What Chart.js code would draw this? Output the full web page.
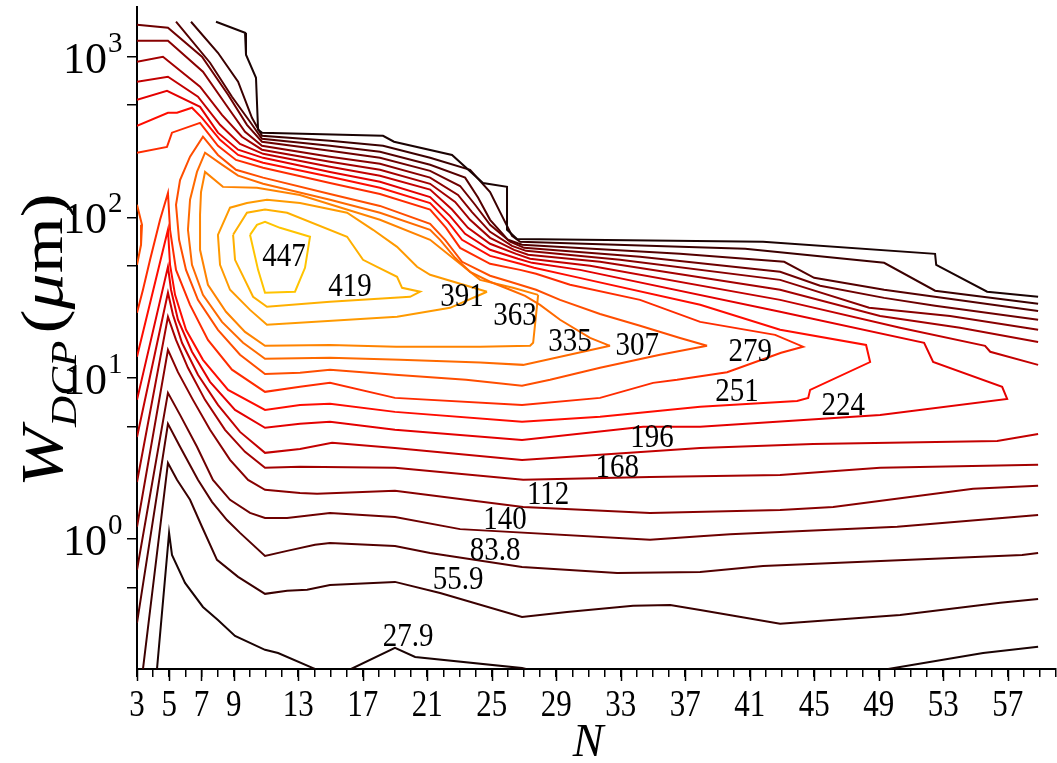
<!DOCTYPE html>
<html>
<head>
<meta charset="utf-8">
<script src="https://cdn.jsdelivr.net/npm/chart.js@4.4.1/dist/chart.umd.min.js"></script>
<style>
  html, body { margin: 0; padding: 0; background: #ffffff; }
  #wrap { width: 1057px; height: 763px; position: relative; }
</style>
</head>
<body>
<div id="wrap"><canvas id="c" width="1057" height="763"></canvas></div>
<script>
// Axis ranges and tick values
const nRange = [3, 60];
const wRange = [0.155, 2040];
const xLabelTicks = [3, 5, 7, 9, 13, 17, 21, 25, 29, 33, 37, 41, 45, 49, 53, 57];
const yDecadeExponents = [0, 1, 2, 3];
const yMinorTicks = [0.5, 5, 50, 500];

// Contour levels, outermost first ([N, W] points along each line)
const levels = [27.9, 55.9, 83.8, 140, 112, 168, 196, 224, 251, 279, 307, 335, 363, 391, 419, 447];

// 27.9
const lv279a = [[4.24,0.155],[4.99,1.09],[5.17,0.795],[5.98,0.532],[7.09,0.377],[8.02,0.313],[9.08,0.249],[10.94,0.204],[11.75,0.195],[13.92,0.157],[14.04,0.155]];
const lv279b = [[16.28,0.155],[19.0,0.21],[20.25,0.184],[26.88,0.157],[27.13,0.155]];
const lv279c = [[49.59,0.155],[55.48,0.195],[58.89,0.213]];
const lv279top = [[7.90,1652],[9.70,1410],[9.76,1029],[10.38,740],[10.51,351],[10.75,337],[18.26,322],[18.94,296],[22.54,245],[24.46,164],[25.95,155],[25.95,83.8],[26.57,73.5],[41.83,70.5],[52.50,59.4],[52.57,50.7],[55.73,34.5],[58.89,32.1]];
// 55.9
const lv559low = [[3.37,0.155],[4.92,2.97],[5.48,2.33],[6.29,1.75],[7.03,1.19],[7.96,0.74],[9.27,0.58],[10.94,0.455],[12.31,0.475],[13.55,0.482],[14.97,0.517],[19.0,0.54],[21.8,0.461],[26.88,0.327],[29.67,0.351],[33.77,0.383],[36.07,0.388],[37.93,0.361],[42.89,0.296],[50.33,0.336],[56.54,0.40],[58.89,0.423]];
const lv559top = [[6.35,1652],[8.02,1059],[9.27,699],[10.13,417],[10.75,322],[14.97,300],[18.26,279],[21.18,235],[23.66,198],[24.90,144],[25.52,108],[26.26,76.9],[26.76,70.6],[40.72,63.8],[49.34,52.2],[52.50,35.0],[58.89,29.0]];
// 83.8
const lv838low = [[3.0,0.30],[4.92,5.2],[5.67,3.74],[6.78,2.33],[7.65,1.70],[8.58,1.31],[9.39,1.09],[10.94,0.784],[12.31,0.842],[14.04,0.918],[14.97,0.944],[19.0,0.904],[21.18,0.818],[26.88,0.669],[32.78,0.614],[37.93,0.623],[41.83,0.679],[57.9,0.795],[58.89,0.818]];
const lv838top = [[5.42,1652],[7.53,918],[8.89,564],[10.01,394],[10.75,309],[14.97,279],[18.07,256],[21.18,213],[23.35,177],[24.15,133],[24.90,96.7],[26.01,72.6],[26.88,67.6],[36.68,59.4],[43.14,53.0],[45.0,42.1],[49.34,35.5],[58.89,26.2]];
// 140
const lv140low = [[3.0,0.641],[4.92,8.1],[5.67,5.91],[6.72,3.74],[7.71,2.33],[8.77,1.75],[10.01,1.45],[10.94,1.35],[12.31,1.35],[14.97,1.45],[19.0,1.37],[23.04,1.15],[34.82,0.986],[37.93,1.04],[39.79,1.07],[50.15,1.19],[58.89,1.41]];
const lv140top = [[3.0,1581],[4.92,1515],[7.03,1000],[8.65,580],[9.82,377],[10.75,296],[14.97,260],[18.07,235],[21.18,195],[23.04,157],[23.97,120],[24.90,90],[26.14,70.6],[27.01,64.7],[34.20,56.9],[42.89,45.9],[45.37,37.6],[49.34,31.6],[52.5,28.2],[58.89,23.1]];
// 112
const lv112low = [[3.0,1.19],[4.92,15.0],[5.54,10.9],[6.47,7.33],[7.53,4.77],[8.77,3.10],[9.89,2.33],[10.94,2.02],[13.11,1.93],[14.17,1.91],[19.0,1.99],[26.95,1.58],[34.82,1.45],[42.89,1.51],[46.18,1.58],[54.86,2.05],[58.89,2.14]];
const lv112top = [[3.0,1259],[4.92,1259],[7.09,807],[8.52,503],[9.70,341],[10.75,279],[14.97,239],[18.07,216],[21.18,177],[22.91,138],[23.78,108],[24.90,81.4],[26.26,66.6],[27.13,62.0],[32.96,54.5],[42.89,40.9],[48.41,27.4],[53.43,24.4],[58.89,20.0]];
// 168
const lv168low = [[3.0,2.26],[4.92,24.1],[5.42,17.3],[6.16,11.6],[7.22,7.33],[8.46,4.77],[9.70,3.48],[10.94,2.77],[13.11,2.81],[19.0,2.77],[26.95,2.33],[34.82,2.43],[42.89,2.5],[49.09,2.77],[58.89,2.89]];
const lv168top = [[3.0,931],[4.61,1000],[6.91,651],[8.27,435],[9.51,318],[10.75,264],[14.97,222],[18.07,198],[21.18,162],[22.73,125],[23.66,96.7],[24.90,74.7],[26.39,62.9],[27.26,58.6],[31.72,53.0],[42.89,35.5],[49.09,24.4],[54.05,20.6],[58.89,16.8]];
// 196
const lv196low = [[3.0,4.31],[4.92,34],[5.23,24.8],[5.79,16.6],[6.78,10.5],[8.02,6.82],[9.39,4.63],[10.94,3.43],[13.11,3.63],[15.1,3.96],[19.0,3.68],[26.88,3.10],[37.93,3.68],[44.94,3.9],[56.35,4.07],[58.89,4.5]];
const lv196top = [[3.0,699],[4.92,751],[6.78,564],[8.15,377],[9.39,287],[10.82,249],[14.97,207],[18.07,182],[21.18,149],[22.54,112],[23.53,86.2],[24.90,68.6],[26.51,59.4],[27.38,55.3],[31.10,50.0],[42.89,30.7],[50.33,20.6],[55.60,15.9],[55.92,14.6],[58.89,12.1]];
// 224
const lv224 = [[3.0,7.33],[4.92,49.3],[5.11,35.5],[5.54,23.1],[6.41,14.6],[7.53,9.49],[9.08,6.35],[10.94,4.91],[13.11,5.2],[14.97,5.35],[19.0,4.77],[26.88,4.13],[34.39,4.98],[37.93,4.98],[49.09,5.91],[56.97,7.43],[56.66,8.83],[52.38,12.6],[51.82,16.6],[42.89,25.9],[30.48,47.2],[27.50,52.2],[26.63,55.3],[24.90,62.9],[23.35,79.1],[22.42,102],[21.18,134],[18.07,167],[14.97,192],[10.82,235],[9.27,264],[8.02,337],[6.91,488],[4.86,614],[3.0,540]];
// 251
const lv251 = [[3.0,13.6],[4.92,83.8],[5.05,50.7],[5.36,33.0],[6.04,20.0],[7.09,13.0],[8.65,8.46],[10.94,6.35],[13.11,6.82],[14.97,6.92],[19.0,6.17],[26.88,5.35],[31.72,5.75],[37.93,6.63],[43.94,7.22],[44.63,7.54],[44.75,8.46],[48.47,12.6],[48.22,16.1],[42.89,20.0],[37.93,28.6],[30.17,42.7],[27.63,48.6],[26.76,51.5],[24.90,57.7],[23.16,72.6],[22.29,94.0],[21.18,123],[18.07,153],[14.97,179],[10.82,219],[9.27,245],[8.15,304],[7.03,417],[6.41,482],[5.48,448],[4.92,448],[3.0,372]];
// 279
const lv279 = [[3.0,25.5],[3.37,35.5],[3.81,54.5],[4.43,96.7],[4.92,142],[5.05,83.8],[5.42,47.2],[6.29,28.6],[7.40,17.3],[8.89,11.3],[10.94,8.22],[13.11,8.83],[14.97,9.35],[19.0,7.54],[26.88,6.82],[31.72,7.54],[35.01,9.35],[36.5,9.77],[39.6,10.9],[42.95,14.4],[44.31,15.7],[42.58,18.6],[37.93,22.4],[34.20,30.7],[29.86,38.1],[27.75,44.6],[26.76,47.2],[24.90,51.5],[23.04,64.7],[22.17,86.2],[21.18,112],[18.07,140],[14.97,164],[10.82,204],[9.14,228],[8.02,279],[6.91,388],[5.17,337],[4.86,275],[3.0,253]];
// 307
const lv307 = [[38.36,15.9],[36.68,17.8],[34.20,21.2],[31.72,25.1],[29.24,30.7],[27.75,35.5],[26.14,39.8],[24.90,43.4],[23.16,53.0],[22.11,72.6],[21.18,91.4],[18.07,118],[14.97,140],[10.82,177],[9.14,198],[8.02,245],[7.09,318],[6.29,239],[5.67,171],[5.42,120],[5.61,72.6],[6.04,47.2],[6.78,30.7],[8.02,20.0],[9.39,14.0],[10.94,10.6],[13.11,10.8],[14.97,11.3],[19.0,10.5],[23.41,9.77],[26.88,8.96],[28.62,9.77],[31.72,11.6],[35.44,14.0],[38.36,15.9]];
const lv307edge = [[3.0,120],[3.31,90.0],[3.25,67.6],[3.0,50.7]];
// 335
const lv335 = [[32.34,15.9],[31.10,17.8],[29.24,23.1],[28.0,28.6],[27.07,32.5],[26.14,35.5],[24.90,39.8],[23.66,45.9],[22.73,56.1],[21.80,72.6],[21.18,83.8],[18.07,107],[14.97,129],[10.82,162],[9.27,182],[8.27,213],[7.22,253],[6.72,192],[6.29,129],[6.16,83.8],[6.41,50.7],[7.09,33.0],[8.27,22.4],[9.58,16.6],[10.94,13.2],[14.97,13.4],[19.32,13.0],[24.28,12.5],[26.95,12.1],[32.34,15.9]];
// 363
const lv363 = [[27.88,33.0],[27.57,16.6],[27.38,15.9],[24.28,15.7],[19.07,15.7],[14.97,16.1],[10.94,15.9],[9.70,19.4],[8.52,25.9],[7.40,38.1],[6.91,62.9],[6.91,104],[6.97,144],[7.22,192],[8.33,155],[10.44,153],[13.11,138],[18.07,96.7],[21.18,72.6],[24.28,40.9],[26.32,36.5],[27.88,33.0]];
// 391
const lv391 = [[24.71,34.5],[22.42,27.4],[19.13,24.1],[11.06,21.5],[10.01,26.6],[8.77,35.5],[8.15,50.7],[8.02,78.0],[8.77,115],[9.82,123],[11.06,129],[13.11,123],[16.03,107],[17.64,83.8],[19.13,65.6],[20.37,49.3],[21.18,44.0],[24.71,34.5]];
// 419
const lv419 = [[8.96,78.0],[9.82,107],[10.94,112],[12.31,107],[16.03,75.8],[17.02,54.5],[17.89,49.3],[19.13,42.7],[19.44,36.5],[20.56,34.5],[19.94,32.1],[14.97,29.9],[11.06,27.8],[10.20,32.1],[9.08,54.5],[8.96,78.0]];
// 447
const lv447 = [[10.01,78.0],[10.44,90.0],[10.94,94.0],[11.87,86.2],[13.73,75.8],[13.42,48.6],[12.80,34.5],[10.94,34.0],[10.51,47.2],[10.01,78.0]];

// Which level each line belongs to
const contourLines = [
  [27.9, lv279a], [27.9, lv279b], [27.9, lv279c], [27.9, lv279top],
  [55.9, lv559low], [55.9, lv559top],
  [83.8, lv838low], [83.8, lv838top],
  [140, lv140low], [140, lv140top],
  [112, lv112low], [112, lv112top],
  [168, lv168low], [168, lv168top],
  [196, lv196low], [196, lv196top],
  [224, lv224], [251, lv251], [279, lv279],
  [307, lv307], [307, lv307edge], [335, lv335], [363, lv363], [391, lv391], [419, lv419], [447, lv447]
];

// Inline level labels: [level, N, W]
const levelLabels = [
  [447, 12.12, 56.9], [419, 16.21, 37.0], [391, 23.16, 32.1], [363, 26.45, 24.4],
  [335, 29.86, 16.8], [307, 34.02, 15.7], [279, 41.03, 14.6], [251, 40.22, 8.22],
  [224, 46.8, 6.73], [196, 34.95, 4.25], [168, 32.78, 2.77], [112, 28.5, 1.88],
  [140, 25.83, 1.31], [83.8, 25.21, 0.842], [55.9, 22.91, 0.556], [27.9, 19.81, 0.245]
];

// Black -> red -> yellow ramp, outermost to innermost
const levelColors = ['#1a0303', '#3b0000', '#540000', '#6e0000', '#880000', '#a30000', '#c30000',
  '#e40000', '#ff0c00', '#ff2c00', '#ff4e00', '#ff6a00', '#ff8300', '#ff9a00', '#ffb000', '#ffc400'];

const serif = '"Liberation Serif", "Times New Roman", serif';

const datasets = contourLines.map(([lvl, pts]) => ({
  label: String(lvl),
  data: pts.map(([n, w]) => ({ x: n, y: w })),
  showLine: true,
  borderColor: levelColors[levels.indexOf(lvl)],
  borderWidth: 2,
  pointRadius: 0,
  pointHoverRadius: 0,
  fill: false,
  tension: 0
}));

// Text layer: tick labels, axis titles, inline level labels
const textLayer = {
  id: 'textLayer',
  afterDraw(chart) {
    const { ctx, scales: { x, y } } = chart;
    ctx.save();
    ctx.fillStyle = '#000';

    // longer marks for labelled N ticks
    ctx.strokeStyle = '#000';
    ctx.lineWidth = 1.5;
    xLabelTicks.forEach(n => {
      const px = Math.round(x.getPixelForValue(n)) + 0.5;
      ctx.beginPath();
      ctx.moveTo(px, y.bottom);
      ctx.lineTo(px, y.bottom + 12);
      ctx.stroke();
    });

    // N tick labels
    ctx.textAlign = 'center';
    ctx.textBaseline = 'alphabetic';
    xLabelTicks.forEach(n => {
      ctx.save();
      ctx.translate(x.getPixelForValue(n), 716);
      ctx.scale(1, 1.22);
      ctx.font = '31px ' + serif;
      ctx.fillText(String(n), 0, 0);
      ctx.restore();
    });

    // W tick labels as 10^k
    yDecadeExponents.forEach(k => {
      const py = y.getPixelForValue(Math.pow(10, k));
      ctx.font = '44px ' + serif;
      ctx.textAlign = 'right';
      ctx.textBaseline = 'alphabetic';
      ctx.fillText('10', 107, py + 16);
      ctx.font = '29px ' + serif;
      ctx.textAlign = 'left';
      ctx.fillText(String(k), 108, py - 5);
    });

    // x title
    ctx.font = 'italic 46px ' + serif;
    ctx.textAlign = 'center';
    ctx.textBaseline = 'alphabetic';
    ctx.fillText('N', 588, 756);

    // y title, stretched along its run
    ctx.save();
    ctx.translate(62, 487);
    ctx.rotate(-Math.PI / 2);
    ctx.scale(1.2, 1);
    ctx.textAlign = 'left';
    ctx.textBaseline = 'alphabetic';
    let cx = 0;
    const run = (txt, font, dy) => {
      ctx.font = font;
      ctx.fillText(txt, cx, dy);
      cx += ctx.measureText(txt).width;
    };
    run('W', 'italic 60px ' + serif, 0);
    run('DCP', 'italic 36px ' + serif, 14);
    cx += 6;
    run('(', '60px ' + serif, 0);
    run('\u03BC', 'italic 60px ' + serif, 0);
    run('m)', '60px ' + serif, 0);
    ctx.restore();

    // inline level labels
    ctx.textAlign = 'center';
    ctx.textBaseline = 'middle';
    levelLabels.forEach(([lvl, n, w]) => {
      ctx.save();
      ctx.translate(x.getPixelForValue(n), y.getPixelForValue(w));
      ctx.scale(1, 1.15);
      ctx.font = '29px ' + serif;
      ctx.fillText(String(lvl), 0, 0);
      ctx.restore();
    });
    ctx.restore();
  }
};

new Chart(document.getElementById('c'), {
  type: 'scatter',
  data: { datasets },
  options: {
    responsive: false,
    animation: false,
    devicePixelRatio: 1,
    layout: { padding: { left: 137, right: 1, top: 7, bottom: 94 } },
    plugins: { legend: { display: false }, tooltip: { enabled: false } },
    events: [],
    scales: {
      x: {
        type: 'linear',
        min: nRange[0],
        max: nRange[1],
        afterFit(s) { s.height = 0; },
        afterBuildTicks(s) {
          const t = [];
          for (let n = nRange[0]; n <= nRange[1]; n++) t.push({ value: n });
          s.ticks = t;
        },
        ticks: { display: false },
        grid: { display: true, drawOnChartArea: false, drawTicks: true, tickLength: 8, color: '#000', lineWidth: 1.5 },
        border: { display: true, color: '#000', width: 2 }
      },
      y: {
        type: 'logarithmic',
        min: wRange[0],
        max: wRange[1],
        afterFit(s) { s.width = 0; },
        afterBuildTicks(s) {
          const t = yMinorTicks.concat(yDecadeExponents.map(k => Math.pow(10, k))).sort((a, b) => a - b);
          s.ticks = t.map(v => ({ value: v }));
        },
        ticks: { display: false },
        grid: { display: true, drawOnChartArea: false, drawTicks: true, tickLength: 10, color: '#000', lineWidth: 1.5 },
        border: { display: true, color: '#000', width: 2 }
      }
    }
  },
  plugins: [textLayer]
});
</script>
</body>
</html>
